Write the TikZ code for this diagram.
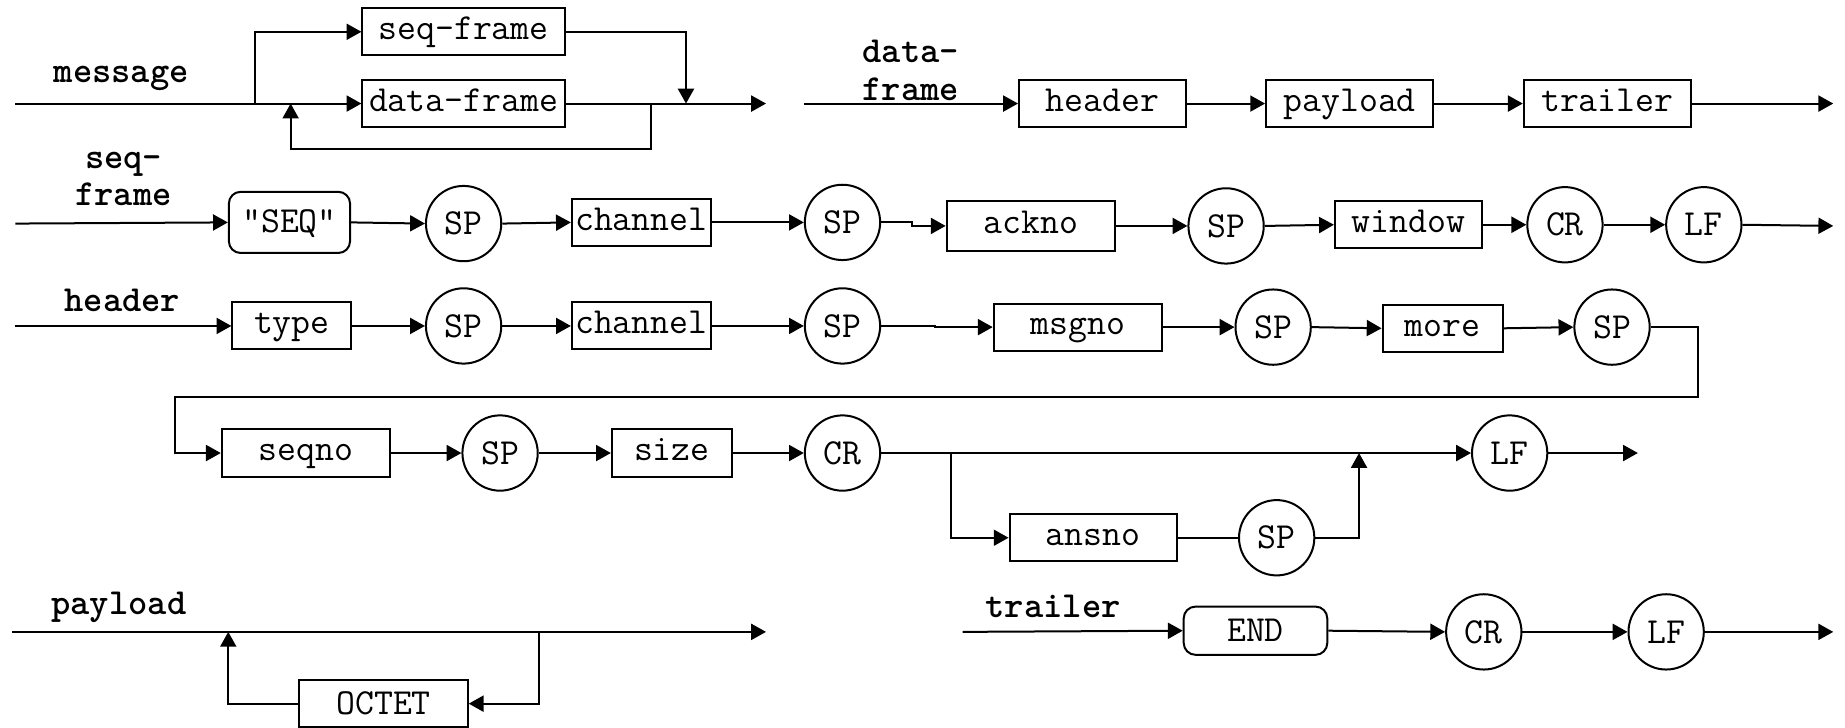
\documentclass[tikz,border=0pt]{standalone}
\usepackage{fontspec}
\usetikzlibrary{arrows.meta}
\newcommand{\txtfont}{\ttfamily\fontsize{15.6}{16}\selectfont}
\newcommand{\lblfont}{\ttfamily\bfseries\fontsize{15.6}{16}\selectfont}
\tikzset{
  wire/.style={line width=0.85pt},
  flow/.style={wire, -{Triangle[length=6.3pt,width=6.8pt]}},
  box/.style={draw, line width=0.85pt, rectangle, minimum height=20pt, inner sep=0pt,
    font=\txtfont, text height=9pt, text depth=2.4pt},
  rbox/.style={box, rounded corners=5pt, text height=9.5pt, text depth=0.5pt},
  term/.style={draw, line width=0.85pt, circle, minimum size=32pt, inner sep=0pt,
    font=\txtfont, text height=9.5pt, text depth=0pt},
  rulename/.style={font=\lblfont, align=center, inner sep=0pt},
}
\begin{document}
\begin{tikzpicture}[x=0.5pt, y=-0.5pt]
\useasboundingbox (0,0) rectangle (1568,618);

% ---------- message ----------
\node[rulename] (lmsg) at (103,67) {message};
\node[box, minimum width=86pt] (sf) at (394,27) {seq-frame};
\node[box, minimum width=86pt] (df) at (394,88) {data-frame};
\coordinate (m0) at (13,88);
\coordinate (msplit) at (217,88);
\coordinate (mloop) at (247,88);
\coordinate (mback) at (553,88);
\coordinate (mjoin) at (583,88);
\coordinate (mend) at (651,88);
\draw[flow] (m0) -- (df.west);
\draw[flow] (msplit) |- (sf.west);
\draw[flow] (sf.east) -| (mjoin);
\draw[flow] (df.east) -- (mend);
\draw[flow] (mback) -- ++(0,39) -| (mloop);

% ---------- data-frame ----------
\node[rulename] (ldf) at (774,60) {data-\\frame};
\node[box, minimum width=71pt] (hd) at (937,88) {header};
\node[box, minimum width=71pt] (pl) at (1147,88) {payload};
\node[box, minimum width=71pt] (tr) at (1366,88) {trailer};
\coordinate (d0) at (683,88);
\coordinate (dend) at (1558,88);
\draw[flow] (d0) -- (hd.west);
\draw[flow] (hd.east) -- (pl.west);
\draw[flow] (pl.east) -- (tr.west);
\draw[flow] (tr.east) -- (dend);

% ---------- seq-frame ----------
\node[rulename] (lsf) at (105,152) {seq-\\frame};
\node[rbox, minimum width=51.5pt, minimum height=26pt] (sq) at (246,189) {"SEQ"};
\node[term] (ssp1) at (394,190) {SP};
\node[box, minimum width=59pt] (sch) at (545,189) {channel};
\node[term] (ssp2) at (716,189) {SP};
\node[box, minimum width=71.5pt, minimum height=21pt] (sack) at (876,192) {ackno};
\node[term] (ssp3) at (1042,192) {SP};
\node[box, minimum width=62.5pt] (swin) at (1197,191) {window};
\node[term] (scr) at (1330,191) {CR};
\node[term] (slf) at (1448,191) {LF};
\coordinate (s0) at (13,190);
\coordinate (sjog) at (775,189);
\coordinate (send) at (1558,192);
\draw[flow] (s0) -- (sq.west);
\draw[flow] (sq.east) -- (ssp1.west);
\draw[flow] (ssp1.east) -- (sch.west);
\draw[flow] (sch.east) -- (ssp2.west);
\draw[flow] (ssp2.east) -- (sjog) |- (sack.west);
\draw[flow] (sack.east) -- (ssp3.west);
\draw[flow] (ssp3.east) -- (swin.west);
\draw[flow] (swin.east) -- (scr.west);
\draw[flow] (scr.east) -- (slf.west);
\draw[flow] (slf.east) -- (send);

% ---------- header ----------
\node[rulename] (lhd) at (104,255) {header};
\node[box, minimum width=50.5pt] (htype) at (248,277) {type};
\node[term] (hsp1) at (394,277) {SP};
\node[box, minimum width=59pt] (hch) at (545,277) {channel};
\node[term] (hsp2) at (716,277) {SP};
\node[box, minimum width=71.5pt] (hmsg) at (916,278) {msgno};
\node[term] (hsp3) at (1082,278) {SP};
\node[box, minimum width=51pt] (hmore) at (1226,279) {more};
\node[term] (hsp4) at (1370,278) {SP};
\node[box, minimum width=71.5pt] (hseq) at (260,385) {seqno};
\node[term] (hsp5) at (425,385) {SP};
\node[box, minimum width=51pt] (hsize) at (571,385) {size};
\node[term] (hcr) at (716,385) {CR};
\node[term] (hlf) at (1283,385) {LF};
\node[box, minimum width=71pt] (hans) at (929,457) {ansno};
\node[term] (hsp6) at (1085,457) {SP};
\coordinate (h0) at (13,277);
\coordinate (hjog) at (795,277);
\coordinate (wr) at (1443,337);
\coordinate (wl) at (149,337);
\coordinate (hbr) at (808,385);
\coordinate (hjn) at (1155,385);
\coordinate (hend) at (1392,385);
\draw[flow] (h0) -- (htype.west);
\draw[flow] (htype.east) -- (hsp1.west);
\draw[flow] (hsp1.east) -- (hch.west);
\draw[flow] (hch.east) -- (hsp2.west);
\draw[flow] (hsp2.east) -- (hjog) |- (hmsg.west);
\draw[flow] (hmsg.east) -- (hsp3.west);
\draw[flow] (hsp3.east) -- (hmore.west);
\draw[flow] (hmore.east) -- (hsp4.west);
\draw[flow] (hsp4.east) -| (wr) -- (wl) |- (hseq.west);
\draw[flow] (hseq.east) -- (hsp5.west);
\draw[flow] (hsp5.east) -- (hsize.west);
\draw[flow] (hsize.east) -- (hcr.west);
\draw[flow] (hcr.east) -- (hlf.west);
\draw[flow] (hlf.east) -- (hend);
\draw[flow] (hbr) |- (hans.west);
\draw[wire] (hans.east) -- (hsp6.west);
\draw[flow] (hsp6.east) -| (hjn);

% ---------- payload ----------
\node[rulename] (lpl) at (101,516) {payload};
\node[box, minimum width=71.5pt, text height=9.5pt, text depth=0.5pt] (oct) at (326,598) {OCTET};
\coordinate (p0) at (10,537);
\coordinate (pr) at (458,537);
\coordinate (pl0) at (194,537);
\coordinate (pend) at (651,537);
\draw[flow] (p0) -- (pend);
\draw[flow] (pr) |- (oct.east);
\draw[flow] (oct.west) -| (pl0);

% ---------- trailer ----------
\node[rulename] (ltr) at (895,515) {trailer};
\node[rbox, minimum width=61pt, minimum height=20.5pt] (tend) at (1067,536) {END};
\node[term] (tcr) at (1261,537) {CR};
\node[term] (tlf) at (1416,537) {LF};
\coordinate (t0) at (818,537);
\coordinate (tfin) at (1558,537);
\draw[flow] (t0) -- (tend.west);
\draw[flow] (tend.east) -- (tcr.west);
\draw[flow] (tcr.east) -- (tlf.west);
\draw[flow] (tlf.east) -- (tfin);
\end{tikzpicture}
\end{document}
